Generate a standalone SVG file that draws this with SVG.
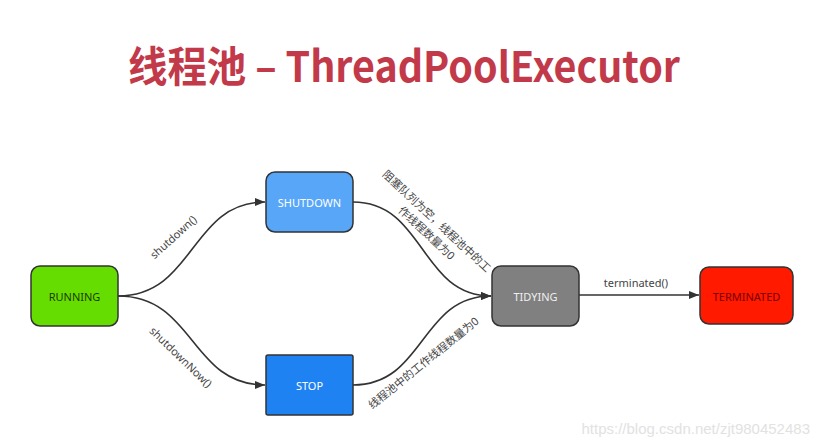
<svg xmlns="http://www.w3.org/2000/svg" width="821" height="447" viewBox="0 0 821 447">
<defs>
<marker id="arr" viewBox="0 0 10 8" refX="10" refY="4" markerWidth="10" markerHeight="8" markerUnits="userSpaceOnUse" orient="auto">
<path d="M0,0 L10,4 L0,8 Z" fill="#333"/>
</marker>
<style>
.node{stroke:#333;stroke-width:1.5}
.nt{font-family:"Noto Sans","Liberation Sans",sans-serif;font-size:11px;text-anchor:middle;dominant-baseline:central}
.edge{fill:none;stroke:#333;stroke-width:1.6}
.lbl{font-family:"Noto Sans","Noto Sans CJK SC",sans-serif;font-size:11px;fill:#444;text-anchor:middle}
</style>
</defs>
<rect width="821" height="447" fill="#fff"/>
<text x="128" y="82" font-family="'Noto Sans CJK SC','Noto Sans',sans-serif" font-weight="bold" font-size="42" fill="#c23a4a" textLength="552" lengthAdjust="spacingAndGlyphs">线程池 – ThreadPoolExecutor</text>

<g id="connectors">
<path class="edge" d="M118,296 C195,296 190,202 265,202" marker-end="url(#arr)"/>
<path class="edge" d="M118,296 C195,296 190,385 265,385" marker-end="url(#arr)"/>
<path class="edge" d="M353,202 C425,202 420,296 491,296" marker-end="url(#arr)"/>
<path class="edge" d="M353,385 C425,385 420,296 491,296" marker-end="url(#arr)"/>
<path class="edge" d="M579,295 L699,295" marker-end="url(#arr)"/>
<text class="lbl" transform="translate(176,240) rotate(-42)">shutdown()</text>
<text class="lbl" transform="translate(178,360) rotate(44)">shutdownNow()</text>
<text class="lbl" transform="translate(434,224) rotate(43)">阻塞队列为空，线程池中的工</text>
<text class="lbl" transform="translate(424,236) rotate(43)">作线程数量为0</text>
<text class="lbl" transform="translate(426,366) rotate(-39)">线程池中的工作线程数量为0</text>
<text class="lbl" x="636" y="287">terminated()</text>
</g>

<g id="running">
<rect class="node" x="31" y="266" width="87" height="60" rx="9" fill="#66dd00"/>
<text class="nt" x="74.5" y="296" fill="#1d3a00">RUNNING</text>
</g>
<g id="shutdown">
<rect class="node" x="266" y="172" width="87" height="60" rx="9" fill="#57a6f7"/>
<text class="nt" x="309.5" y="202" fill="#fff">SHUTDOWN</text>
</g>
<g id="stop">
<rect class="node" x="266" y="355" width="87" height="60" rx="2" fill="#1f82f2"/>
<text class="nt" x="309.5" y="385" fill="#fff">STOP</text>
</g>
<g id="tidying">
<rect class="node" x="492" y="266" width="87" height="60" rx="9" fill="#808080"/>
<text class="nt" x="535.5" y="296" fill="#eee">TIDYING</text>
</g>
<g id="terminated">
<rect class="node" x="700" y="267" width="93" height="57" rx="9" fill="#ff1a00"/>
<text class="nt" x="746.5" y="296" fill="#7a0000">TERMINATED</text>
</g>

<text x="810" y="434" font-family="'Liberation Sans',sans-serif" font-size="15" fill="#e2e2e2" text-anchor="end">https://blog.csdn.net/zjt980452483</text>
</svg>
